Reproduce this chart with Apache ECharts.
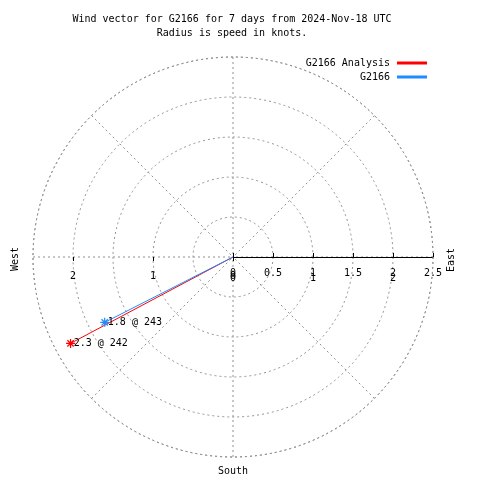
<!DOCTYPE html>
<html><head><meta charset="utf-8">
<script src="https://cdn.jsdelivr.net/npm/echarts@6/dist/echarts.min.js"></script>
<style>html,body{margin:0;padding:0;background:#fff}#c{width:480px;height:480px}</style>
</head><body><div id="c"></div>
<script>
const titleLines = ['Wind vector for G2166 for 7 days from 2024-Nov-18 UTC', 'Radius is speed in knots.'];
const seriesNames = ['G2166 Analysis', 'G2166'];
const speeds = [2.3, 1.8];
const directions = [242, 243];
const seriesColors = ['#ff0000', '#1e8cff'];
const compassLabels = ['East', 'South', 'West'];

const FONT = 'DejaVu Sans Mono';
const FS = 10;
const C = [233, 257];
const R = 200;
const GRID = '#909090';

const hiddenAngle = (idx, start) => ({
  polarIndex: idx, type: 'value', min: 90, max: 450, interval: 45, startAngle: start, clockwise: true,
  axisLine: {show: false}, axisTick: {show: false}, axisLabel: {show: false}, splitLine: {show: false}
});

const chart = echarts.init(document.getElementById('c'), null, {renderer: 'canvas'});
const series = seriesNames.map((n, i) => ({
  name: n, type: 'line', coordinateSystem: 'polar', polarIndex: 0,
  color: seriesColors[i],
  lineStyle: {color: seriesColors[i], width: 1},
  itemStyle: {color: 'rgba(0,0,0,0)', borderColor: seriesColors[i], borderWidth: 1.2},
  symbol: 'path://M0,-5L0,5M-5,0L5,0M-3.5,-3.5L3.5,3.5M-3.5,3.5L3.5,-3.5',
  symbolSize: 9,
  animation: false,
  data: [
    {value: [0, directions[i]], symbol: 'none'},
    {value: [speeds[i], directions[i]],
     label: {show: true, position: 'right', distance: -2, color: '#000', fontFamily: FONT, fontSize: FS,
       formatter: p => p.value[0] + ' @ ' + p.value[1]}}
  ]
}));

chart.setOption({
  animation: false,
  title: {
    text: titleLines.join('\n'), left: 227, top: 7, textAlign: 'center',
    textStyle: {fontFamily: FONT, fontSize: FS, fontWeight: 'normal', color: '#000', lineHeight: 14}
  },
  legend: {
    orient: 'vertical', right: 48, top: 53, align: 'right', itemGap: 4,
    itemWidth: 28, itemHeight: 1, icon: 'rect',
    textStyle: {fontFamily: FONT, fontSize: FS, color: '#000', padding: [0, 3, 0, 0]},
    data: seriesNames
  },
  polar: [
    {center: C, radius: R},
    {center: C, radius: R},
    {center: C, radius: R}
  ],
  angleAxis: [
    {polarIndex: 0, type: 'value', min: 90, max: 450, interval: 45, startAngle: 0, clockwise: true,
     axisLine: {show: true, lineStyle: {color: GRID, type: [2, 3], width: 1}},
     axisTick: {show: false}, axisLabel: {show: false},
     splitLine: {show: true, lineStyle: {color: GRID, type: [2, 3], width: 1}}},
    hiddenAngle(1, 180),
    hiddenAngle(2, 0)
  ],
  radiusAxis: [
    {polarIndex: 0, type: 'value', min: 0, max: 2.5, interval: 0.5,
     axisLine: {show: true, lineStyle: {color: '#000', width: 1}},
     axisTick: {show: true, inside: false, length: 4, lineStyle: {color: '#000'}},
     axisLabel: {show: true, margin: -21, color: '#000', fontFamily: FONT, fontSize: FS},
     splitLine: {show: true, lineStyle: {color: GRID, type: [2, 3], width: 1}}},
    {polarIndex: 1, type: 'value', min: 0, max: 2.5, interval: 1,
     axisLine: {show: false},
     axisTick: {show: true, inside: true, length: 4, lineStyle: {color: '#000'}},
     axisLabel: {show: true, margin: 14, color: '#000', fontFamily: FONT, fontSize: FS, showMaxLabel: false},
     splitLine: {show: false}},
    {polarIndex: 2, type: 'value', min: 0, max: 2.5, interval: 1,
     axisLine: {show: false}, axisTick: {show: false},
     axisLabel: {show: true, margin: -26, color: '#000', fontFamily: FONT, fontSize: FS, showMaxLabel: false},
     splitLine: {show: false}}
  ],
  graphic: [
    {type: 'text', x: 451, y: 260, rotation: Math.PI / 2,
     style: {text: compassLabels[0], fontFamily: FONT, fontSize: FS, fill: '#000', align: 'center', verticalAlign: 'middle'}},
    {type: 'text', x: 233, y: 471,
     style: {text: compassLabels[1], fontFamily: FONT, fontSize: FS, fill: '#000', align: 'center', verticalAlign: 'middle'}},
    {type: 'text', x: 15, y: 259, rotation: Math.PI / 2,
     style: {text: compassLabels[2], fontFamily: FONT, fontSize: FS, fill: '#000', align: 'center', verticalAlign: 'middle'}}
  ],
  series: series
});
</script></body></html>
